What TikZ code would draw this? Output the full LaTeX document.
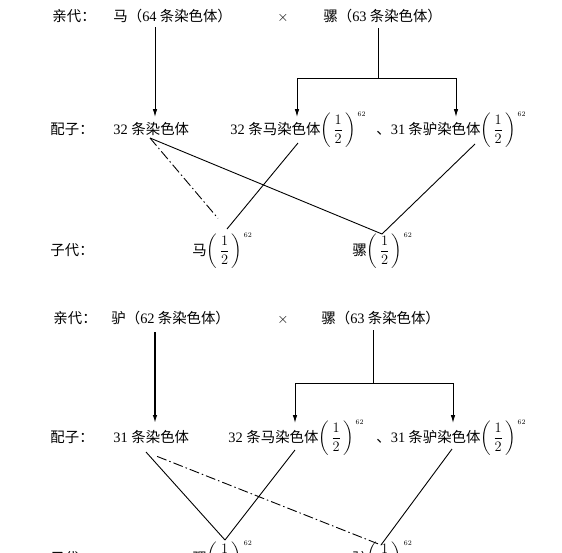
\documentclass[tikz,border=0pt]{standalone}
\usepackage{fontspec}
\usepackage{amsmath}
\setmainfont{Liberation Serif}
\newfontfamily\cjk{Noto Sans CJK SC}
\usetikzlibrary{arrows.meta}
\newcommand{\nm}[1]{{\rmfamily #1}}
\newcommand{\half}{$\left(\,\dfrac{1}{2}\,\right)^{\,\scriptscriptstyle 62}$}

\begin{document}
\begin{tikzpicture}[x=1pt,y=-1pt,line width=.9pt,
  txt/.style={anchor=base west,inner sep=0pt,font=\fontsize{14.4}{16}\selectfont},
  arr/.style={-{Latex[length=8pt,width=4.5pt]}},
  dashdot/.style={dash pattern=on 10pt off 3pt on 1.5pt off 3pt}]
\useasboundingbox (0,0) rectangle (562,552);
% first cross
\node[txt] (pa1) at (52,21) {\cjk 亲代：};
\node[txt] (ma) at (113,21) {\cjk 马（\nm{64} 条染色体）};
\node[txt] (x1) at (277,21) {$\times$};
\node[txt] (luo1) at (323,21) {\cjk 骡（\nm{63} 条染色体）};
\node[txt] (pz1) at (50,134) {\cjk 配子：};
\node[txt] (ga) at (113,134) {\nm{32} \cjk 条染色体};
\node[txt] (gb) at (230,134) {\nm{32} \cjk 条马染色体\half};
\node[txt] (gc) at (376,134) {\cjk 、\nm{31} 条驴染色体\half};
\node[txt] (zd1) at (50,255) {\cjk 子代：};
\node[txt] (fa) at (192,255) {\cjk 马\half};
\node[txt] (fb) at (352,255) {\cjk 骡\half};
\coordinate (ma1) at (155,27);  \coordinate (ma2) at (155,117);
\coordinate (lu1) at (378,28);  \coordinate (lu2) at (378,78);
\coordinate (bl1) at (297,78);  \coordinate (bl2) at (297,117);
\coordinate (br1) at (456,78);  \coordinate (br2) at (456,117);
\coordinate (sa) at (150,138);  \coordinate (sb) at (298,143);
\coordinate (sc) at (475,144);
\coordinate (va) at (227,229);  \coordinate (vb) at (382,234);
\draw[arr] (ma1) -- (ma2);
\draw (lu1) -- (lu2);
\draw (bl1) -- (br1);
\draw[arr] (bl1) -- (bl2);
\draw[arr] (br1) -- (br2);
\draw[dashdot,shorten >=14pt] (sa) -- (va);
\draw (sb) -- (va);
\draw (sa) -- (vb);
\draw (sc) -- (vb);
% second cross
\node[txt] (pa2) at (53,323) {\cjk 亲代：};
\node[txt] (lv) at (111,323) {\cjk 驴（\nm{62} 条染色体）};
\node[txt] (x2) at (277,323) {$\times$};
\node[txt] (luo2) at (321,323) {\cjk 骡（\nm{63} 条染色体）};
\node[txt] (pz2) at (50,442) {\cjk 配子：};
\node[txt] (gd) at (113,442) {\nm{31} \cjk 条染色体};
\node[txt] (ge) at (228,442) {\nm{32} \cjk 条马染色体\half};
\node[txt] (gf) at (376,442) {\cjk 、\nm{31} 条驴染色体\half};
\node[txt] (zd2) at (50,563) {\cjk 子代：};
\node[txt] (fc) at (192,563) {\cjk 骡\half};
\node[txt] (fd) at (352,563) {\cjk 驴\half};
\coordinate (lv1) at (155,332); \coordinate (lv2) at (155,423);
\coordinate (lu3) at (373,330); \coordinate (lu4) at (373,383);
\coordinate (bl3) at (295,383); \coordinate (bl4) at (295,423);
\coordinate (br3) at (453,383); \coordinate (br4) at (453,423);
\coordinate (sd) at (146,452);  \coordinate (se) at (295,450);
\coordinate (sf) at (452,449);
\coordinate (vc) at (225,540);  \coordinate (vd) at (381,545);
\draw[arr,line width=1.3pt] (lv1) -- (lv2);
\draw (lu3) -- (lu4);
\draw (bl3) -- (br3);
\draw[arr] (bl3) -- (bl4);
\draw[arr] (br3) -- (br4);
\draw (sd) -- (vc);
\draw (se) -- (vc);
\draw[dashdot,shorten <=12pt] (sd) -- (vd);
\draw (sf) -- (vd);
\end{tikzpicture}
\end{document}
